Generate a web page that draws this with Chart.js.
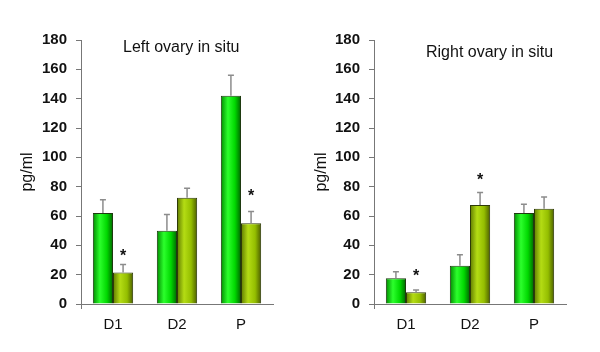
<!DOCTYPE html>
<html lang="en">
  <head>
    <meta charset="UTF-8">
    <title>Ovary in situ</title>
    <script src="https://cdn.jsdelivr.net/npm/chart.js"></script>
    <style>
      body { margin: 0; background: #fff; }
      .panel { position: absolute; top: 0; width: 300px; height: 352px; }
    </style>
  </head>
  <body>
  <div class="panel" style="left:0"><canvas id="left" width="300" height="352"></canvas></div>
  <div class="panel" style="left:300px"><canvas id="right" width="300" height="352"></canvas></div>
  <script>

// categories
const categories = ['D1', 'D2', 'P'];

// left ovary (pg/ml), mean and error
const leftGreen = [62, 50, 142];
const leftGreenErr = [9, 11, 14];
const leftOlive = [21.5, 72.5, 55];
const leftOliveErr = [5.5, 6.5, 8];
const leftStars = [35.5, null, 76.5];   // asterisk heights over olive bars

// right ovary (pg/ml)
const rightGreen = [17.5, 26, 62];
const rightGreenErr = [4.5, 7.5, 6];
const rightOlive = [8, 67.5, 65];
const rightOliveErr = [1.5, 8.5, 8];
const rightStars = [22, 87, null];

const yTicks = { min: 0, max: 180, step: 20 };

const greenStops = ['#008a00', '#2cff2c', '#00d800', '#006400'];
const oliveStops = ['#5f7a00', '#b4dc14', '#94be00', '#4c5e00'];
const CAT_PCT = 0.63;

function barFill(stops) {
  return function (c) {
    const x = c.chart.scales.x;
    if (!x || !x.width || c.dataIndex == null) return stops[2];
    const center = x.getPixelForValue(c.dataIndex);
    const w = x.width / categories.length * CAT_PCT / 2;
    const l = c.datasetIndex === 0 ? center - w : center;
    const g = c.chart.ctx.createLinearGradient(l, 0, l + w, 0);
    g.addColorStop(0, stops[0]);
    g.addColorStop(0.35, stops[1]);
    g.addColorStop(0.7, stops[2]);
    g.addColorStop(1, stops[3]);
    return g;
  };
}

// error bars (upward only) and asterisks
const extras = {
  id: 'extras',
  afterDatasetsDraw(chart, args, opts) {
    const ctx = chart.ctx;
    const y = chart.scales.y;
    ctx.save();
    chart.data.datasets.forEach((ds, i) => {
      const meta = chart.getDatasetMeta(i);
      meta.data.forEach((el, j) => {
        const top = y.getPixelForValue(ds.data[j] + ds.err[j]);
        ctx.strokeStyle = '#8c8c8c';
        ctx.lineWidth = 1.5;
        ctx.beginPath();
        ctx.moveTo(el.x, el.y);
        ctx.lineTo(el.x, top);
        ctx.moveTo(el.x - 3, top);
        ctx.lineTo(el.x + 3, top);
        ctx.stroke();
        if (ds.stars && ds.stars[j] != null) {
          ctx.fillStyle = '#111';
          ctx.font = 'bold 16px "Liberation Sans", Arial, sans-serif';
          ctx.textAlign = 'center';
          ctx.textBaseline = 'alphabetic';
          ctx.fillText('*', el.x, y.getPixelForValue(ds.stars[j]) + 9);
        }
      });
    });
    // panel caption inside the plot area
    const a = chart.chartArea;
    ctx.fillStyle = '#111';
    ctx.font = '16px "Liberation Sans", Arial, sans-serif';
    ctx.textAlign = 'left';
    ctx.textBaseline = 'alphabetic';
    ctx.fillText(opts.text, a.left + opts.dx, a.top + opts.dy);
    ctx.restore();
  }
};

function makeChart(id, green, greenErr, olive, oliveErr, stars, caption, axisW, padRight, titlePad, capDx, capDy) {
  return new Chart(document.getElementById(id), {
    type: 'bar',
    data: {
      labels: categories,
      datasets: [
        { data: green, err: greenErr, backgroundColor: barFill(greenStops),
          borderColor: '#1e3a10', borderWidth: 1 },
        { data: olive, err: oliveErr, stars: stars, backgroundColor: barFill(oliveStops),
          borderColor: '#2e3a08', borderWidth: 1 }
      ]
    },
    options: {
      responsive: false,
      animation: false,
      categoryPercentage: CAT_PCT,
      barPercentage: 1,
      layout: { padding: { top: 40, right: padRight, left: 0, bottom: 0 } },
      plugins: {
        legend: { display: false },
        tooltip: { enabled: false },
        extras: { text: caption, dx: capDx, dy: capDy }
      },
      scales: {
        x: {
          afterFit: (s) => { s.height = 48; },
          border: { color: '#777', width: 1 },
          grid: {
            offset: true,
            drawOnChartArea: false,
            tickLength: 5,
            color: (c) => (c.index === 0 || c.index === categories.length) ? '#777' : 'rgba(0,0,0,0)'
          },
          ticks: {
            color: '#111',
            padding: 7,
            font: { family: '"Liberation Sans", Arial, sans-serif', size: 15 }
          }
        },
        y: {
          min: yTicks.min,
          max: yTicks.max,
          afterFit: (s) => { s.width = axisW; },
          border: { color: '#777', width: 1 },
          grid: { drawOnChartArea: false, tickLength: 5, color: '#777' },
          ticks: {
            stepSize: yTicks.step,
            color: '#111',
            padding: 9,
            font: { family: '"Liberation Sans", Arial, sans-serif', size: 15, weight: 'bold' }
          },
          title: {
            display: true,
            text: 'pg/ml',
            color: '#111',
            padding: { top: titlePad, bottom: 0 },
            font: { family: '"Liberation Sans", Arial, sans-serif', size: 16 }
          }
        }
      }
    },
    plugins: [extras]
  });
}

makeChart('left', leftGreen, leftGreenErr, leftOlive, leftOliveErr, leftStars,
  'Left ovary in situ', 81, 27, 18, 42, 12);
makeChart('right', rightGreen, rightGreenErr, rightOlive, rightOliveErr, rightStars,
  'Right ovary in situ', 74, 34, 12, 52, 16.5);

</script>
  </body>
</html>
